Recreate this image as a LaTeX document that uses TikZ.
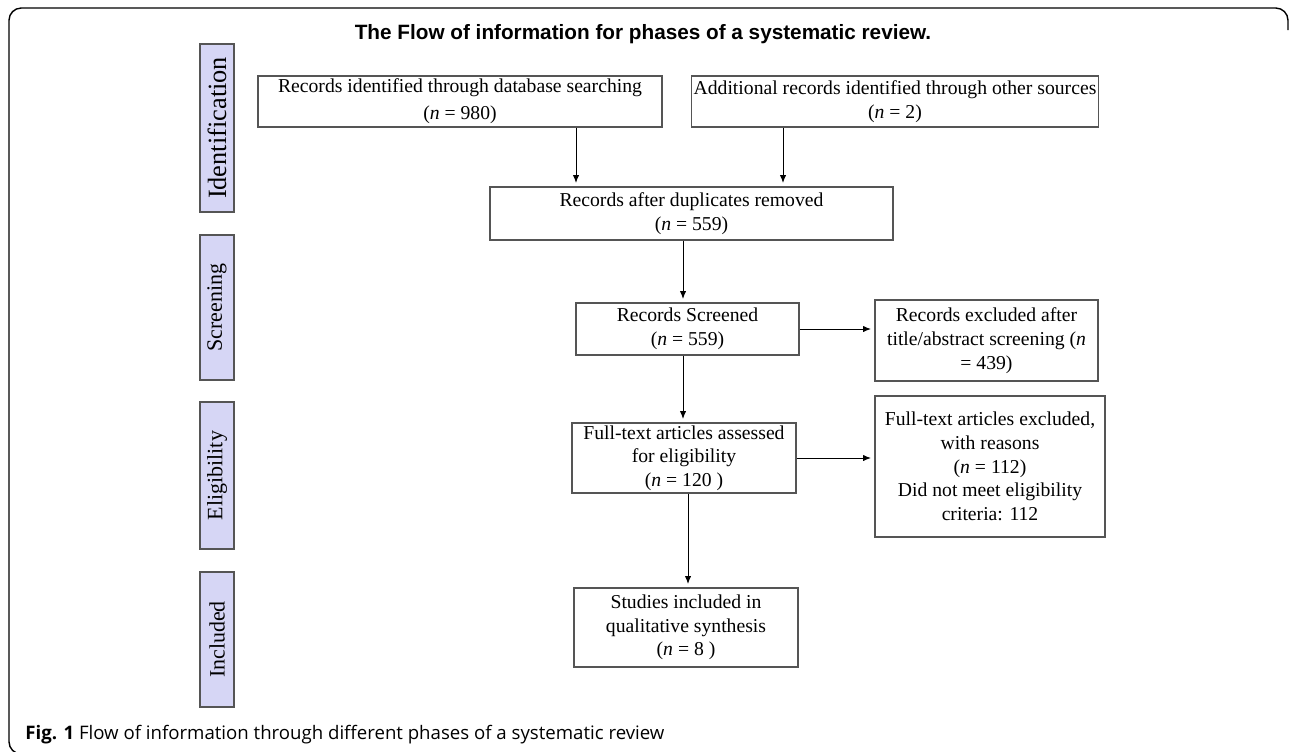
\documentclass[tikz,border=0pt]{standalone}
\usepackage{fontspec}
\setmainfont{Liberation Serif}
\newfontfamily\titlefont{Liberation Sans}
\newfontfamily\capfont{Open Sans}
\usetikzlibrary{arrows.meta}
\definecolor{phasecol}{RGB}{214,214,245}
\definecolor{edgecol}{RGB}{85,85,85}
\def\pxu{0.02cm}
\tikzset{
  box/.style={draw=edgecol, line width=0.6pt, align=center, inner sep=1pt,
    font=\fontsize{11.2}{13.5}\selectfont},
  phase/.style={draw=edgecol, line width=0.6pt, fill=phasecol, rotate=90, inner sep=0pt,
    font=\fontsize{12.5}{14}\selectfont},
  arr/.style={line width=0.5pt, -{Latex[length=4.5pt,width=3.6pt]}, shorten >=2pt},
}
\begin{document}
\begin{tikzpicture}[x=\pxu, y=-\pxu]
\useasboundingbox (0,0) rectangle (1290,751);
\begin{scope}
\clip (0,0) rectangle (1290,751);
\draw[line width=0.8pt, rounded corners=7pt] (60,754) -- (9,754) -- (9,8) -- (1288,8) -- (1288,30);
\end{scope}
% title
\node[font=\titlefont\bfseries\fontsize{11.8}{13}\selectfont] (title) at (643,34) {The Flow of information for phases of a systematic review.};
% phases
\node[phase, minimum width=168*\pxu, minimum height=34*\pxu, font=\fontsize{15}{17}\selectfont] (ph1) at (217,128) {Identification};
\node[phase, minimum width=145*\pxu, minimum height=34*\pxu] (ph2) at (217,307.5) {Screening};
\node[phase, minimum width=147*\pxu, minimum height=34*\pxu] (ph3) at (217,475.5) {Eligibility};
\node[phase, minimum width=135*\pxu, minimum height=34*\pxu] (ph4) at (217,639.5) {Included};
% boxes
\node[box, minimum width=404*\pxu, minimum height=51*\pxu] (b1) at (460,101.5)
  {Records identified through database searching\\[2pt](\textit{n} = 980)};
\node[box, minimum width=404*\pxu, minimum height=51*\pxu] (b2) at (895,101.5)
  {Additional records identified through other sources\\(\textit{n} = 2)};
\node[box, minimum width=403*\pxu, minimum height=53*\pxu] (b3) at (691.5,213.5)
  {Records after duplicates removed\\(\textit{n} = 559)};
\node[box, minimum width=223*\pxu, minimum height=52*\pxu] (b4) at (687.5,329)
  {Records Screened\\(\textit{n} = 559)};
\node[box, minimum width=223*\pxu, minimum height=81*\pxu] (b5) at (986.5,340.5)
  {Records excluded after\\title/abstract screening (\textit{n}\\= 439)};
\node[box, minimum width=224*\pxu, minimum height=70*\pxu] (b6) at (684,458)
  {Full-text articles assessed\\for eligibility\\(\textit{n} = 120 )};
\node[box, minimum width=230*\pxu, minimum height=141*\pxu] (b7) at (990,466.5)
  {Full-text articles excluded,\\with reasons\\(\textit{n} = 112)\\Did not meet eligibility\\criteria: 112};
\node[box, minimum width=224*\pxu, minimum height=79*\pxu] (b8) at (686,627.5)
  {Studies included in\\qualitative synthesis\\(\textit{n} = 8 )};
% arrow columns
\coordinate (c1) at (576,0);
\coordinate (c2) at (783,0);
\coordinate (c3) at (683,0);
\coordinate (c4) at (688,0);
\draw[arr] (b1.south -| c1) -- (b3.north -| c1);
\draw[arr] (b2.south -| c2) -- (b3.north -| c2);
\draw[arr] (b3.south -| c3) -- (b4.north -| c3);
\draw[arr] (b4.south -| c3) -- (b6.north -| c3);
\draw[arr] (b6.south -| c4) -- (b8.north -| c4);
\draw[arr] (b4.east) -- (b4.east -| b5.west);
\draw[arr] (b6.east) -- (b6.east -| b7.west);
% caption
\node[anchor=base west, inner sep=0pt, font=\capfont\fontsize{10.6}{12.5}\selectfont] (cap) at (25,739)
  {\textbf{Fig. 1} Flow of information through different phases of a systematic review};
\end{tikzpicture}
\end{document}
